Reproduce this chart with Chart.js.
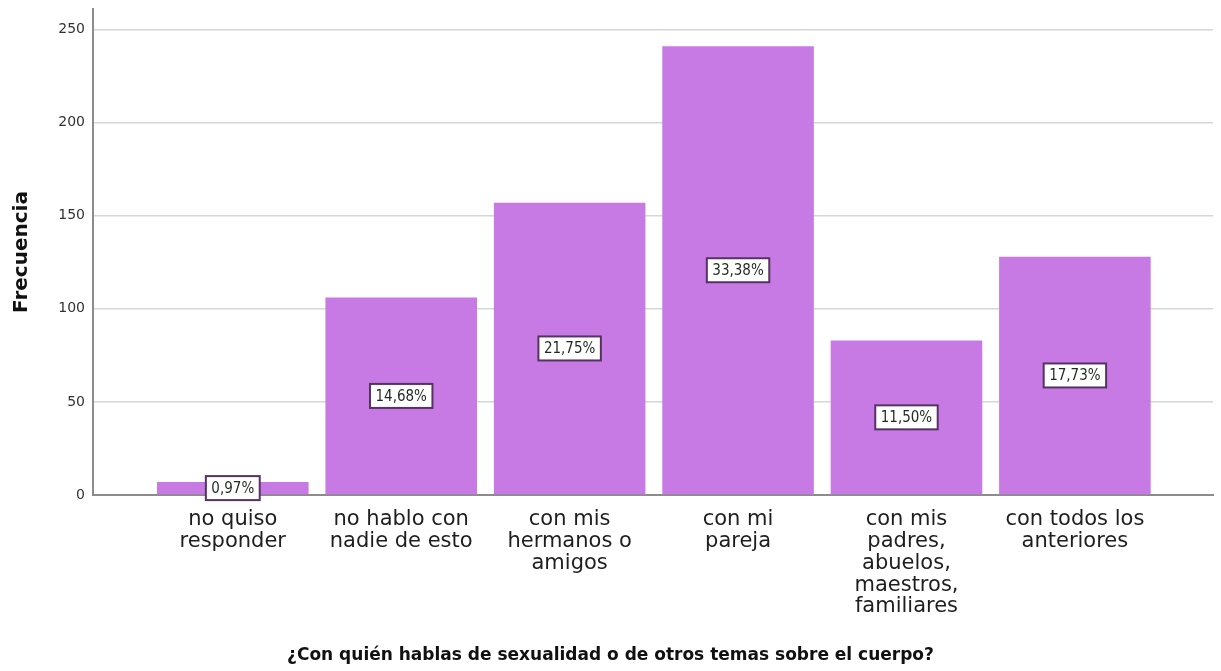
<!DOCTYPE html>
<html>
<head>
<meta charset="utf-8">
<script src="https://cdn.jsdelivr.net/npm/chart.js@4"></script>
<style>
  html, body { margin:0; padding:0; background:#fff; }
  #wrap { width:1221px; height:671px; }
</style>
</head>
<body>
<div id="wrap"><canvas id="chart" width="1221" height="671"></canvas></div>
<script>
// categories (multi-line tick labels) and values
const categories = [
  ['no quiso', 'responder'],
  ['no hablo con', 'nadie de esto'],
  ['con mis', 'hermanos o', 'amigos'],
  ['con mi', 'pareja'],
  ['con mis', 'padres,', 'abuelos,', 'maestros,', 'familiares'],
  ['con todos los', 'anteriores']
];
const counts = [7, 106, 157, 241, 83, 128];
const pctLabels = ['0,97%', '14,68%', '21,75%', '33,38%', '11,50%', '17,73%'];
const yTicks = [0, 50, 100, 150, 200, 250];

const FONT = '"DejaVu Sans", "Noto Sans", sans-serif';
const COND = '"DejaVu Sans Condensed", "DejaVu Sans", sans-serif';
const BAR = '#c87ae4';

// percent boxes in the middle of each bar
const pctBoxes = {
  id: 'pctBoxes',
  afterDatasetsDraw(chart){
    const ctx = chart.ctx;
    const meta = chart.getDatasetMeta(0);
    ctx.save();
    ctx.font = '15px ' + COND;
    ctx.textAlign = 'center';
    ctx.textBaseline = 'middle';
    meta.data.forEach((bar, i) => {
      const cy = (bar.y + bar.base) / 2;
      const w = ctx.measureText(pctLabels[i]).width + 11;
      const h = 24;
      ctx.fillStyle = '#fff';
      ctx.fillRect(bar.x - w/2, cy - h/2, w, h);
      ctx.lineWidth = 2;
      ctx.strokeStyle = '#553262';
      ctx.strokeRect(bar.x - w/2, cy - h/2, w, h);
      ctx.fillStyle = '#1d2a20';
      ctx.fillText(pctLabels[i], bar.x, cy + 1);
    });
    ctx.restore();
  }
};

new Chart(document.getElementById('chart'), {
  type: 'bar',
  data: {
    datasets: [{
      data: counts.map((v, i) => ({ x: i, y: v })),
      backgroundColor: BAR,
      borderWidth: 0,
      barPercentage: 0.9,
      categoryPercentage: 1
    }]
  },
  options: {
    responsive: false,
    animation: false,
    layout: { padding: { top: 9, right: 8, bottom: 5, left: 8 } },
    plugins: {
      legend: { display: false },
      tooltip: { enabled: false },
      title: {
        display: true,
        position: 'bottom',
        text: '¿Con quién hablas de sexualidad o de otros temas sobre el cuerpo?',
        color: '#111',
        font: { family: FONT, size: 17, weight: 'bold', lineHeight: 1.2 },
        padding: { top: 0, bottom: 0 }
      }
    },
    scales: {
      x: {
        type: 'linear',
        offset: false,
        min: -0.83,
        max: 5.82,
        afterBuildTicks: s => { s.ticks = categories.map((_, i) => ({ value: i })); },
        afterFit: s => { s.height = 150.6; s.paddingLeft = 0; s.paddingRight = 0; },
        grid: { display: false, drawTicks: false },
        border: { display: true, color: '#8c8c8c', width: 2 },
        ticks: {
          autoSkip: false, maxRotation: 0, minRotation: 0, padding: 14,
          color: '#1e1e1e',
          font: { family: FONT, size: 21, lineHeight: 1.035 },
          callback: v => categories[v]
        }
      },
      y: {
        min: 0,
        max: 261,
        afterBuildTicks: s => { s.ticks = yTicks.map(v => ({ value: v })); },
        afterFit: s => { s.width = 85; s.paddingTop = 0; s.paddingBottom = 0; },
        grid: { color: '#d6d6d6', lineWidth: 1.5, drawTicks: false },
        border: { display: true, color: '#8c8c8c', width: 2 },
        ticks: { padding: 8, color: '#333', font: { family: FONT, size: 14 } },
        title: {
          display: true,
          text: 'Frecuencia',
          color: '#111',
          font: { family: FONT, size: 20, weight: 'bold', lineHeight: 1.2 },
          padding: { top: 2, bottom: 0 }
        }
      }
    }
  },
  plugins: [pctBoxes]
});
</script>
</body>
</html>
